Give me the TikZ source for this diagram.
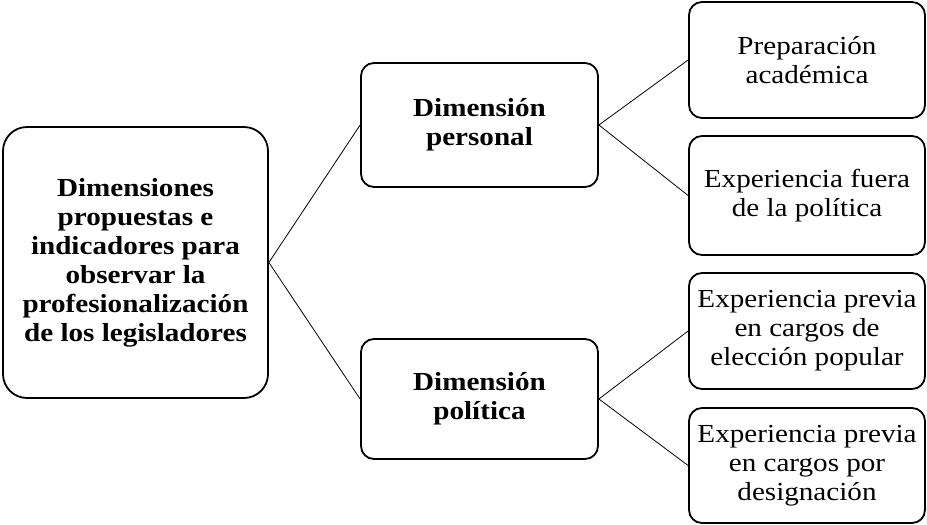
\documentclass[tikz,border=0pt]{standalone}
\usepackage{fontspec}
\setmainfont{Liberation Serif}[FakeStretch=1.12]
\begin{document}
\begin{tikzpicture}[x=1pt,y=-1pt,
  box/.style={draw, line width=1.8pt, rounded corners=13pt, align=center, inner sep=0pt,
    font=\fontsize{26}{29}\selectfont},
  rootbox/.style={box, rounded corners=24pt, font=\fontsize{26}{29}\selectfont\bfseries},
  midbox/.style={box, font=\fontsize{26}{29}\selectfont\bfseries, minimum width=237pt},
  leafbox/.style={box, minimum width=236pt},
  link/.style={line width=0.8pt}]
\useasboundingbox (0,0) rectangle (927,525);
\node[rootbox, minimum width=265pt, minimum height=271pt] (root) at (135.5,262.5)
  {Dimensiones\\propuestas e\\indicadores para\\observar la\\profesionalización\\de los legisladores};
\node[midbox, minimum height=124pt] (pers) at (479.5,125) {Dimensión\\personal};
\node[midbox, minimum height=120pt] (pol) at (479.5,399) {Dimensión\\política};
\node[leafbox, minimum height=116pt] (l1) at (807,60) {Preparación\\académica};
\node[leafbox, minimum height=119pt] (l2) at (807,195.5) {Experiencia fuera\\de la política};
\node[leafbox, minimum height=116pt] (l3) at (807,331) {Experiencia previa\\en cargos de\\elección popular};
\node[leafbox, minimum height=115pt] (l4) at (807,465.5) {Experiencia previa\\en cargos por\\designación};
\draw[link] (root.east) -- (pers.west);
\draw[link] (root.east) -- (pol.west);
\draw[link] (pers.east) -- (l1.west);
\draw[link] (pers.east) -- (l2.west);
\draw[link] (pol.east) -- (l3.west);
\draw[link] (pol.east) -- (l4.west);
\end{tikzpicture}
\end{document}
